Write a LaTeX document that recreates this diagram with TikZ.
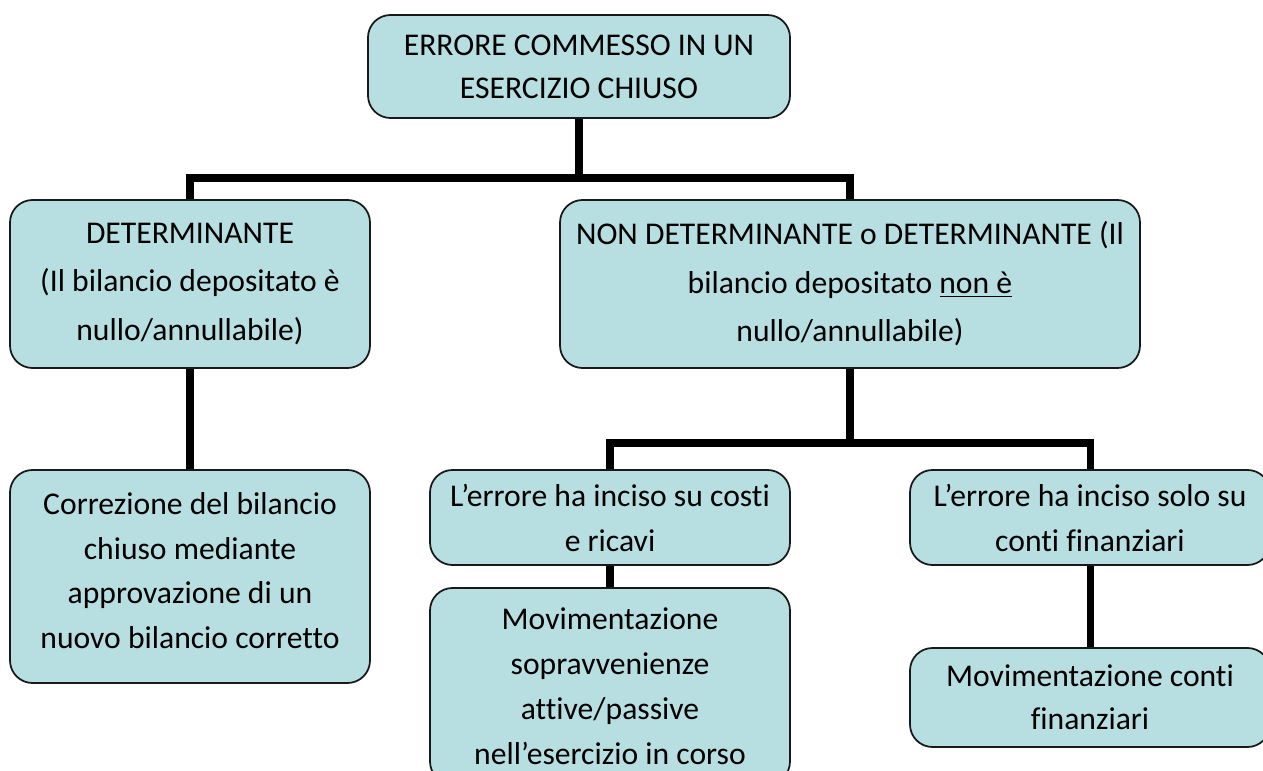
\documentclass[tikz,border=0pt]{standalone}
\usepackage{fontspec}
\setmainfont[Ligatures=NoCommon]{Carlito}
\usetikzlibrary{positioning}
\definecolor{boxfill}{RGB}{183,222,225}

\begin{document}
\begin{tikzpicture}[
  box/.style={draw=black!90, line width=1pt, fill=boxfill, rounded corners=0.45cm,
    inner sep=0pt, align=center, font=\fontsize{18}{25.6}\selectfont},
  widebox/.style={box, font=\fontsize{18}{27.6}\selectfont},
  link/.style={line width=4pt, black}
]
\useasboundingbox (0,0) rectangle (25.26,-15.42);

\node[box, minimum width=8.44cm, minimum height=2.06cm, font=\fontsize{18}{24.5}\selectfont] (top) at (11.58,-1.33)
  {ERRORE COMMESSO IN UN\\ESERCIZIO CHIUSO};
\node[widebox, minimum width=7.2cm, minimum height=3.36cm] (det) at (3.8,-5.68)
  {DETERMINANTE\\(Il bilancio depositato è\\nullo/annullabile)};
\node[widebox, minimum width=11.6cm, minimum height=3.36cm] (nondet) at (17.0,-5.68)
  {NON DETERMINANTE o DETERMINANTE (Il\\bilancio depositato \underline{non è}\\nullo/annullabile)};
\node[box, minimum width=7.2cm, minimum height=4.26cm] (corr) at (3.8,-11.53)
  {Correzione del bilancio\\chiuso mediante\\approvazione di un\\nuovo bilancio corretto\\[-0.66cm]};
\node[box, minimum width=7.2cm, minimum height=1.9cm] (costi) at (12.2,-10.35)
  {L’errore ha inciso su costi\\e ricavi};
\node[box, minimum width=7.2cm, minimum height=1.9cm] (solo) at (21.8,-10.35)
  {L’errore ha inciso solo su\\conti finanziari};
\node[box, minimum width=7.2cm, minimum height=3.92cm] (movsop) at (12.2,-13.72)
  {Movimentazione\\sopravvenienze\\attive/passive\\nell’esercizio in corso};
\node[box, minimum width=7.2cm, minimum height=1.98cm, font=\fontsize{18}{24.5}\selectfont] (movfin) at (21.8,-13.95)
  {Movimentazione conti\\finanziari};

\coordinate (split1) at (11.58,-3.56);
\coordinate (split2) at (17.0,-8.86);

\draw[link] (top.south) -- (split1);
\draw[link] (det.north) |- (split1) -| (nondet.north);
\draw[link] (det.south) -- (corr.north);
\draw[link] (nondet.south) -- (split2);
\draw[link] (costi.north) |- (split2) -| (solo.north);
\draw[link] (costi.south) -- (movsop.north);
\draw[link] (solo.south) -- (movfin.north);
\end{tikzpicture}
\end{document}
